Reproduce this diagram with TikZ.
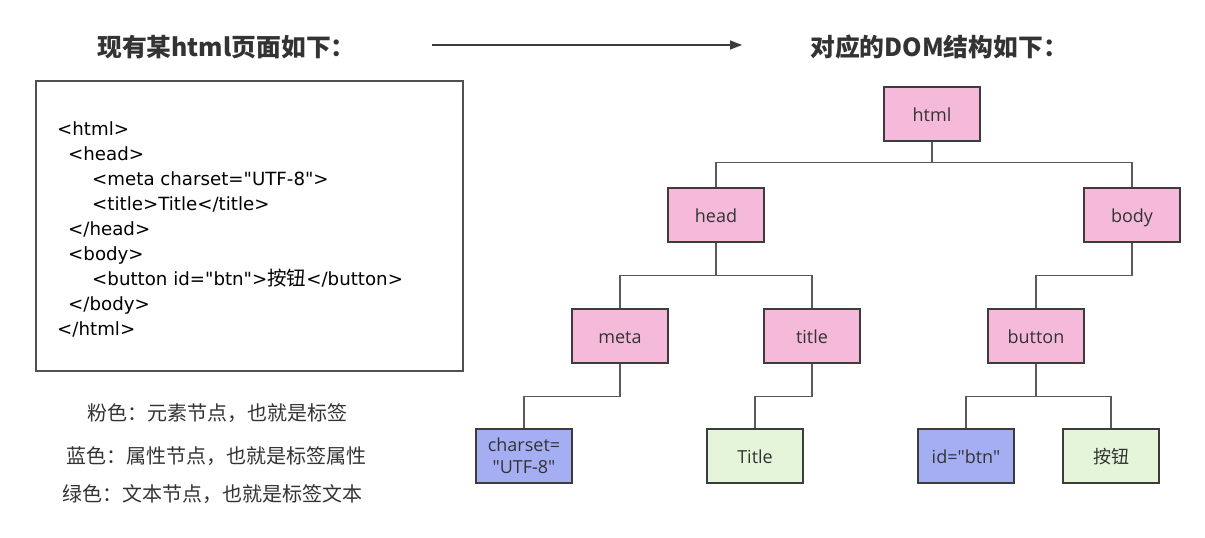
\documentclass[tikz,border=0pt]{standalone}
\usepackage{fontspec}
\setmainfont{Open Sans}[Ligatures=TeXOff]
\newfontfamily\cjk{Noto Sans CJK SC}
\newfontfamily\codefont{DejaVu Sans}
\usetikzlibrary{arrows.meta}
\definecolor{txt}{HTML}{333333}
\definecolor{edge}{HTML}{3C3C3C}
\definecolor{pinkf}{HTML}{F5BADA}
\definecolor{bluef}{HTML}{A6AEF3}
\definecolor{greenf}{HTML}{E5F5DA}
\tikzset{
  tbase/.style={draw=edge,line width=1.4pt,minimum width=96pt,minimum height=54pt,inner sep=0pt,font=\fontsize{18}{22}\selectfont,text=txt,align=center},
  tnode/.style={tbase,text height=18pt,text depth=4pt},
  elem/.style={tnode,fill=pinkf},
  attr/.style={tnode,fill=bluef},
  attr2/.style={tbase,fill=bluef},
  textn/.style={tnode,fill=greenf},
  link/.style={draw=edge!85,line width=1.4pt},
  codeline/.style={anchor=base west,inner sep=0pt,font=\codefont\fontsize{18.2}{20}\selectfont,text=black},
  legend/.style={anchor=center,inner sep=0pt,font=\cjk\fontsize{20}{22}\selectfont,text=txt},
  heading/.style={anchor=west,inner sep=0pt,font=\cjk\fontsize{24.8}{28}\selectfont\bfseries,text=txt}
}
\begin{document}
\begin{tikzpicture}[x=1pt,y=-1pt]
\useasboundingbox[fill=white] (0,0) rectangle (1205,538);
% headings
\node[heading] (h1) at (97,47) {现有某html页面如下：};
\node[heading] (h2) at (810,47) {对应的DOM结构如下：};
\coordinate (a1) at (432,45);
\coordinate (a2) at (742,45);
\draw[draw=edge,line width=1.4pt,-{Triangle[length=12pt,width=9pt]}] (a1) -- (a2);
% code box
\node[draw=edge!90,line width=1.4pt,minimum width=427pt,minimum height=290pt,inner sep=0pt] (code) at (249.5,226) {};
\node[codeline] (c1) at (57,135) {<html>};
\node[codeline] (c2) at (68,160) {<head>};
\node[codeline] (c3) at (92,185) {<meta charset="UTF-8">};
\node[codeline] (c4) at (92,210) {<title>Title</title>};
\node[codeline] (c5) at (68,235) {</head>};
\node[codeline] (c6) at (68,260) {<body>};
\node[codeline] (c7) at (92,285) {<button id="btn">{\cjk\fontsize{19.5}{20}\selectfont 按钮}</button>};
\node[codeline] (c8) at (68,310) {</body>};
\node[codeline] (c9) at (57,335) {</html>};
% legend
\node[legend] (l1) at (217,413) {粉色：元素节点，也就是标签};
\node[legend] (l2) at (216,456) {蓝色：属性节点，也就是标签属性};
\node[legend] (l3) at (212,494) {绿色：文本节点，也就是标签文本};
% tree
\node[elem] (html) at (932,114) {html};
\node[elem] (head) at (716,215) {head};
\node[elem] (body) at (1132,215) {body};
\node[elem] (meta) at (620,336) {meta};
\node[elem] (title) at (812,336) {title};
\node[elem] (button) at (1036,336) {button};
\node[attr2] (charset) at (524,456) {charset=\\"UTF-8"};
\node[textn] (Title) at (755,456) {Title};
\node[attr] (id) at (966,456) {id="btn"};
\node[textn] (anniu) at (1111,456) {\cjk 按钮};
% connectors
\draw[link] (html.south) -- ++(0,21) -| (head.north);
\draw[link] (html.south) -- ++(0,21) -| (body.north);
\draw[link] (head.south) -- ++(0,33) -| (meta.north);
\draw[link] (head.south) -- ++(0,33) -| (title.north);
\draw[link] (body.south) -- ++(0,33) -| (button.north);
\draw[link] (meta.south) -- ++(0,33) -| (charset.north);
\draw[link] (title.south) -- ++(0,33) -| (Title.north);
\draw[link] (button.south) -- ++(0,33) -| (id.north);
\draw[link] (button.south) -- ++(0,33) -| (anniu.north);
\end{tikzpicture}
\end{document}
